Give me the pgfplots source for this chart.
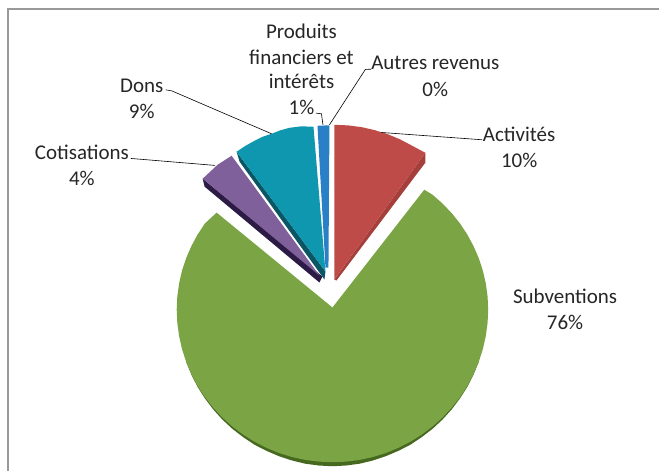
\documentclass[border=0pt]{standalone}
\usepackage{pgfplots}
\pgfplotsset{compat=1.18}
\usepackage{fontspec}
\setmainfont{Carlito}
\definecolor{cgreen}{HTML}{7BA445}
\definecolor{cgreendk}{HTML}{46691F}
\definecolor{cred}{HTML}{BE4B48}
\definecolor{creddk}{HTML}{A53F3C}
\definecolor{cpurple}{HTML}{80609A}
\definecolor{cpurpledk}{HTML}{2C1B44}
\definecolor{cteal}{HTML}{0E97AE}
\definecolor{ctealdk}{HTML}{0A5664}
\definecolor{cblue}{HTML}{2A80C6}
\definecolor{cframe}{HTML}{999999}
\begin{document}
\begin{tikzpicture}[lab/.style={font=\fontsize{21}{24}\selectfont, text=black!85, inner sep=0pt}]
  \begin{axis}[
    scale only axis,
    width=660pt,
    height=472pt,
    xmin=0, xmax=660,
    ymin=0, ymax=472,
    y dir=reverse,
    hide axis,
    clip=false,
  ]
  % page background and frame (only top and left edges show)
  \addplot[draw=none,fill=white] coordinates {(0,0) (660,0) (660,472) (0,472)} -- cycle;
  \addplot[cframe,line width=2.2pt] coordinates {(660,9) (8,9) (8,472)};

  % Subventions 76%: shadow then face
  \addplot[draw=none,fill=cgreendk] coordinates {
    (479.6,362.3) (474.3,375.2) (468.1,387.5) (460.8,399) (452.5,410) (443.3,420.2) (433.3,429.5) (422.5,437.8)
    (411,445.5) (399,451.6) (386.4,457) (373.4,461.3) (360.1,464.5) (346.6,466.3) (333,467)
    (319.4,466.3) (305.9,464.5) (292.6,461.3) (279.6,457) (267,451.6) (255,445.5) (243.5,437.8) (232.7,429.5)
    (222.7,420.2) (213.5,410) (205.2,399) (197.9,387.5) (191.7,375.2) (186.4,362.3)
  } -- cycle;
  \addplot[draw=none,fill=cgreen] coordinates {
    (333,308) (425,190) (433.3,195.1) (443.3,203.9) (452.5,213.6) (460.8,223.9) (468.1,235) (474.3,246.5)
    (479.6,258.7) (483.7,271.2) (486.6,283.9) (488.4,297) (489,310)
    (488.4,323.3) (486.6,336.6) (483.7,349.6) (479.6,362.3) (474.3,374.7) (468.1,386.5) (460.8,397.8)
    (452.5,408.3) (443.3,418.2) (433.3,427.2) (422.5,435.3) (411,442.5) (399,448.6) (386.4,453.8)
    (373.4,457.8) (360.1,460.7) (346.6,462.4) (333,463) (319.4,462.4) (305.9,460.7) (292.6,457.8)
    (279.6,453.8) (267,448.6) (255,442.5) (243.5,435.3) (232.7,427.2) (222.7,418.2) (213.5,408.3)
    (205.2,397.8) (197.9,386.5) (191.7,374.7) (186.4,362.3) (182.3,349.6) (179.4,336.6) (177.6,323.3)
    (177,310) (177.6,297) (179.4,283.9) (182.3,271.2) (186.4,258.7) (191.7,246.5) (197.9,235) (205.2,223.9) (217,213)
  } -- cycle;

  % Activites 10%
  \addplot[draw=none,fill=creddk] coordinates {(426,153) (426,163) (337,281) (335,280)} -- cycle;
  \addplot[draw=none,fill=cred] coordinates {
    (335,125) (348.5,125.6) (362,127.3) (375.1,130.3) (388,134.3) (400.5,139.5) (412.5,145.8) (426,153) (335,280)
  } -- cycle;

  % Cotisations 4%
  \addplot[draw=none,fill=cpurpledk] coordinates {(203,179) (205,187) (320,283) (323,277)} -- cycle;
  \addplot[draw=none,fill=cpurple] coordinates {(232,156) (218,165) (203,179) (320,276)} -- cycle;

  % Dons 9%
  \addplot[draw=none,fill=ctealdk] coordinates {(237,152) (240,162) (325,280) (326,272)} -- cycle;
  \addplot[draw=none,fill=cteal] coordinates {
    (237,152) (246,146) (255,141) (263,137) (272,134) (281,130.5) (290,128) (302,126.5) (314,127) (326,272)
  } -- cycle;

  % Produits financiers 1%
  \addplot[draw=none,fill=cblue] coordinates {(318,126) (330,125.5) (329,268) (326,268)} -- cycle;

  % leader lines
  \addplot[black,line width=0.6pt] coordinates {(131,158.7) (215.5,165.7)};
  \addplot[black,line width=0.6pt] coordinates {(166,90) (172,91) (272,134)};
  \addplot[black,line width=0.6pt] coordinates {(316.5,113.3) (322,114) (323.5,125)};
  \addplot[black,line width=0.6pt] coordinates {(372,69.3) (366,69.5) (330,125)};
  \addplot[black,line width=0.6pt] coordinates {(483,140) (382,132.7)};

  % labels
  \node[lab] at (axis cs:302,31) {Produits};
  \node[lab] at (axis cs:302,57) {financiers et};
  \node[lab] at (axis cs:302,82) {intérêts};
  \node[lab] at (axis cs:302,108) {1\%};
  \node[lab] at (axis cs:436,63) {Autres revenus};
  \node[lab] at (axis cs:436,90) {0\%};
  \node[lab] at (axis cs:142,86) {Dons};
  \node[lab] at (axis cs:142,112) {9\%};
  \node[lab] at (axis cs:82,153) {Cotisations};
  \node[lab] at (axis cs:82,179) {4\%};
  \node[lab] at (axis cs:520,135) {Activités};
  \node[lab] at (axis cs:520,161) {10\%};
  \node[lab] at (axis cs:566,297) {Subventions};
  \node[lab] at (axis cs:566,323) {76\%};
  \end{axis}
\end{tikzpicture}
\end{document}
